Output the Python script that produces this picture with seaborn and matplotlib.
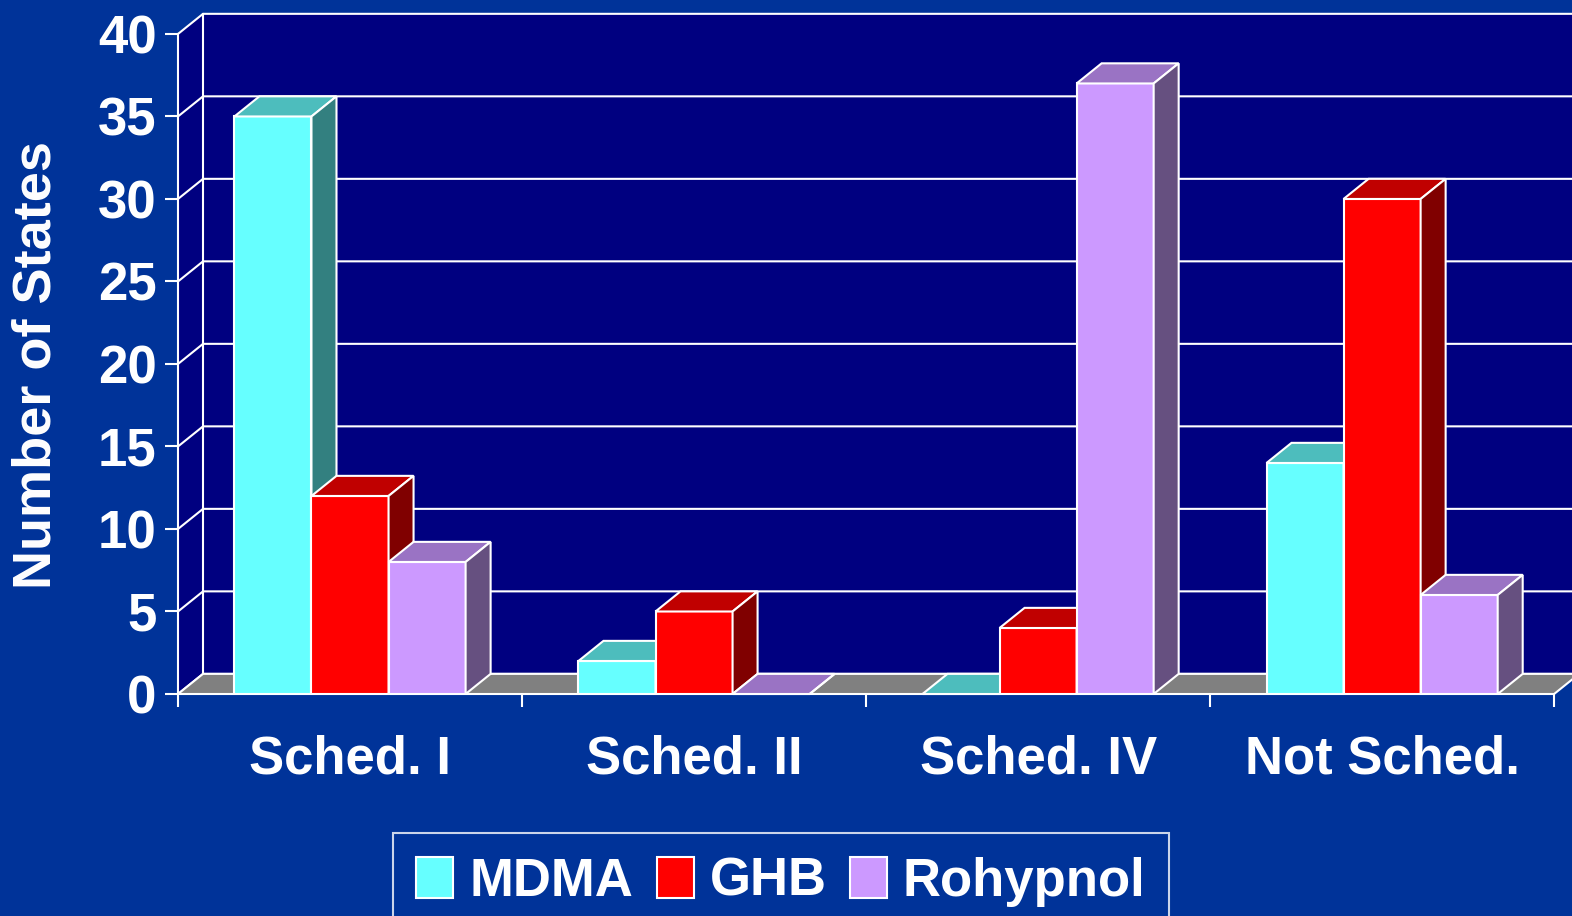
import matplotlib
matplotlib.use('Agg')
import pandas as pd
import matplotlib.pyplot as plt
import seaborn as sns
from matplotlib.patches import Polygon, Rectangle, Patch

# Data
categories = ['Sched. I', 'Sched. II', 'Sched. IV', 'Not Sched.']
drugs = ['MDMA', 'GHB', 'Rohypnol']
mdma = [35, 2, 0, 14]
ghb = [12, 5, 4, 30]
rohypnol = [8, 0, 37, 6]
y_ticks = [0, 5, 10, 15, 20, 25, 30, 35, 40]

# Colours (front, top, side faces)
front_colors = ['#66FFFF', '#FF0000', '#CC99FF']
top_colors = ['#4DBDBD', '#C00000', '#9A73C4']
side_colors = ['#338080', '#800000', '#665080']
BG = '#003399'
WALL = '#000080'
FLOOR = '#808080'

# depth offset of the fake 3D (data units)
dx, dy = 0.0727, 1.22

df = pd.DataFrame({
    'category': categories * 3,
    'drug': [d for d in drugs for _ in categories],
    'value': mdma + ghb + rohypnol,
})

plt.rcParams['font.family'] = ['Liberation Sans', 'DejaVu Sans']
plt.rcParams['font.weight'] = 'bold'

fig = plt.figure(figsize=(15.72, 9.16), dpi=100, facecolor=BG)
ax = fig.add_axes([178 / 1572, 222 / 916, 1394 / 1572, 681 / 916])
ax.set_facecolor('none')

# Bars (front faces)
sns.barplot(data=df, x='category', y='value', hue='drug', order=categories, hue_order=drugs,
            palette=front_colors, saturation=1, width=0.672, edgecolor='white', linewidth=1.5,
            legend=False, ax=ax)

x0, x1 = -0.5, len(categories) - 0.5
xr = x1 + dx + 0.2
top = y_ticks[-1]

# Walls and floor
ax.add_patch(Rectangle((x0 + dx, dy), xr - x0, top, facecolor=WALL, edgecolor='none', zorder=0, clip_on=False))
ax.add_patch(Polygon([(x0, 0), (x0 + dx, dy), (x0 + dx, top + dy), (x0, top)], closed=True,
                     facecolor=WALL, edgecolor='none', zorder=0, clip_on=False))
for v in y_ticks:
    ax.plot([x0, x0 + dx, xr], [v, v + dy, v + dy], color='white', lw=1.5, zorder=0.5, clip_on=False)
ax.plot([x0, x0], [0, top], color='white', lw=1.5, zorder=0.5, clip_on=False)
ax.plot([x0 + dx, x0 + dx], [dy, top + dy], color='white', lw=1.5, zorder=0.5, clip_on=False)
ax.add_patch(Polygon([(x0, 0), (x1, 0), (x1 + dx, dy), (x0 + dx, dy)], closed=True,
                     facecolor=FLOOR, edgecolor='white', lw=1.5, zorder=1, clip_on=False))

# Top and side faces, drawn left to right so later bars hide earlier sides
bars = []
for ci, cont in enumerate(ax.containers):
    for bar in cont:
        bars.append((bar.get_x(), ci, bar))
bars.sort(key=lambda b: b[0])
for i, (x, ci, bar) in enumerate(bars):
    w, h = bar.get_width(), bar.get_height()
    z = 2 + i * 0.1
    bar.set_zorder(z)
    ax.add_patch(Polygon([(x, h), (x + w, h), (x + w + dx, h + dy), (x + dx, h + dy)], closed=True,
                         facecolor=top_colors[ci], edgecolor='white', lw=1.5, zorder=z, clip_on=False))
    ax.add_patch(Polygon([(x + w, 0), (x + w + dx, dy), (x + w + dx, h + dy), (x + w, h)], closed=True,
                         facecolor=side_colors[ci], edgecolor='white', lw=1.5, zorder=z, clip_on=False))

# Axes
ax.set_xlim(x0, 3.552)
ax.set_ylim(0, 41.27)
for s in ax.spines.values():
    s.set_visible(False)
ax.set_yticks(y_ticks)
ax.set_yticklabels([str(v) for v in y_ticks])
ax.set_xticks(range(len(categories)))
ax.set_xticklabels(categories)
ax.set_xticks([x0 + i for i in range(len(categories) + 1)], minor=True)
ax.tick_params(axis='y', colors='white', labelsize=38, length=9.4, width=1.5, pad=6)
ax.tick_params(axis='x', which='major', colors='white', labelsize=38, length=0, pad=29)
ax.tick_params(axis='x', which='minor', colors='white', length=9.4, width=1.5)
ax.set_xlabel('')
ax.set_ylabel('')
ax.grid(False)

fig.text(37 / 1572, 1 - 365 / 916, 'Number of States', rotation=90, ha='center', va='center',
         color='white', fontsize=39, fontweight='bold')

# Legend
handles = [Patch(facecolor=c, edgecolor='white', linewidth=1.5, label=d) for c, d in zip(front_colors, drugs)]
leg = fig.legend(handles=handles, loc='upper center', bbox_to_anchor=(781 / 1572, 1 - 833 / 916), ncol=3,
                 fontsize=38, frameon=True, fancybox=False, facecolor=BG, edgecolor='white',
                 handlelength=0.7, handleheight=0.8, handletextpad=0.3, columnspacing=0.45,
                 borderpad=0.45, borderaxespad=0)
leg.get_frame().set_linewidth(1.5)
for t in leg.get_texts():
    t.set_color('white')

fig.savefig('out.png', dpi=100, facecolor=BG)
